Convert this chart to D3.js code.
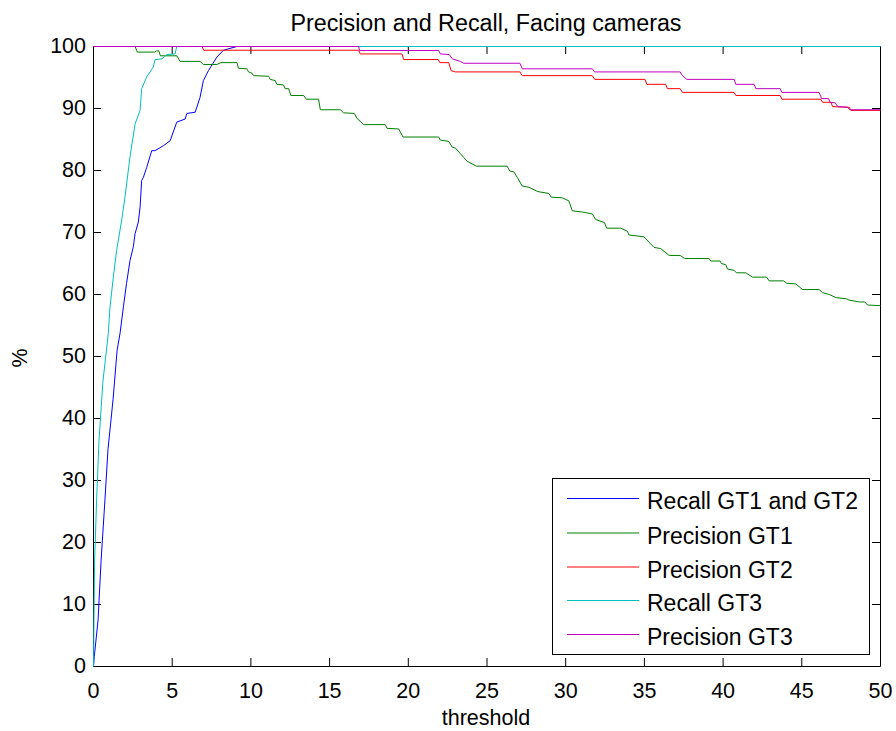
<!DOCTYPE html>
<html><head><meta charset="utf-8">
<script src="https://cdn.jsdelivr.net/npm/d3@7"></script>
<style>
html,body{margin:0;padding:0;background:#fff;}
svg{display:block;font-family:"Liberation Sans",Arial,sans-serif;}
</style></head>
<body>
<svg id="chart" width="896" height="731"></svg>
<script>
const titleText = "Precision and Recall, Facing cameras";
const xLabel = "threshold";
const yLabel = "%";
const xTicks = [0,5,10,15,20,25,30,35,40,45,50];
const yTicks = [0,10,20,30,40,50,60,70,80,90,100];
const seriesNames = ["Recall GT1 and GT2","Precision GT1","Precision GT2","Recall GT3","Precision GT3"];
const seriesColors = ["#0000ff","#008000","#ff0000","#00bfbf","#bf00bf"];

const recall12X = [0,0.05,0.29,0.48,0.73,0.92,1.24,1.5,1.69,1.9,2.1,2.32,2.53,2.64,2.85,2.96,3.06,3.17,3.38,3.7,3.91,4.44,4.87,5.29,5.82,5.93,6.46,6.77,6.98,7.3,7.84,8.26,9.1,50];
const recall12Y = [0,1.6,7.5,17,27,35,43,51,53.8,58,61.8,65.5,67.7,69.8,71.7,74.1,78.4,78.9,80.5,83.2,83.2,84.0,84.8,87.8,88.3,89.2,89.4,91.8,94.5,96.1,98.3,99.4,100,100];

const prec1X = [0,2.64,2.79,3.9,4.0,4.15,4.25,5.3,5.5,6.77,6.98,7.84,8.1,9.11,9.21,9.74,9.85,10.06,10.17,11.12,11.23,11.55,11.65,12.07,12.18,12.4,12.54,13.35,13.52,14.3,14.41,15.68,15.89,16.57,16.74,17.17,18.54,18.65,19.39,19.67,21.93,22.04,22.57,22.78,23.0,23.31,23.52,23.74,24.33,26.28,26.45,26.7,26.92,27.24,27.66,28.23,28.93,29.08,29.78,30.2,30.42,31.06,31.69,31.9,32.47,32.6,33.49,33.92,34.02,34.97,35.61,36.04,36.57,37.27,37.56,39.11,39.22,39.81,39.9,40.17,40.28,40.7,40.85,41.44,41.87,42.76,42.93,43.84,44.05,44.62,45.05,46.1,46.32,46.74,47.17,47.85,48.01,48.65,49.0,49.18,50];
const prec1Y = [100,100,99.1,99.1,99.3,99.3,98.5,98.5,97.6,97.6,97.1,97.1,97.4,97.4,96.5,96.4,95.9,95.7,95.3,95.2,94.7,94.5,93.9,93.8,93.2,93.2,92.1,92.1,91.5,91.5,89.8,89.8,89.3,89.2,88.4,87.4,87.4,86.8,86.7,85.4,85.4,84.9,84.7,83.8,83.6,82.7,82.1,81.5,80.7,80.7,79.9,79.8,78.9,77.5,77.3,76.6,76.3,75.7,75.6,75.1,73.5,73.3,73.0,72.1,71.6,70.7,70.7,70.2,69.6,69.3,67.6,67.4,66.3,66.3,65.8,65.8,65.4,65.4,65.0,64.8,64.1,63.9,63.5,63.5,62.8,62.8,62.2,62.2,61.8,61.7,60.8,60.8,60.3,60.0,59.5,59.3,59.1,58.8,58.8,58.3,58.2];

const prec2X = [0,6.9,7.0,16.85,16.95,19.6,19.7,21.9,22.0,22.57,22.72,23.0,27.09,27.24,31.69,31.84,35.04,35.15,36.35,36.46,37.27,37.42,40.7,40.81,43.63,43.73,46.2,46.32,46.85,46.96,48.01,48.12,50];
const prec2Y = [100,100,99.4,99.4,98.8,98.8,97.9,97.9,97.4,97.4,96.1,95.9,95.9,95.3,95.3,94.7,94.7,93.9,93.9,93.2,93.2,92.6,92.6,92.1,92.1,91.5,91.5,91.0,91.0,90.3,90.2,89.7,89.7];

const recall3X = [0,0.03,0.07,0.2,0.35,0.6,0.94,1.05,1.26,1.47,1.79,2.0,2.32,2.64,2.96,3.06,3.38,3.8,3.91,4.34,4.66,5.18,5.29,50];
const recall3Y = [0,8,17,27,36.5,46,53.7,58,62.8,67.1,72,75.7,82.2,87.5,89.7,93.2,95.1,96.7,97.9,98.0,98.7,98.8,100,100];

const prec3X = [0,16.85,16.9,21.93,22.04,22.6,22.8,23.3,23.52,27.09,27.24,31.69,31.84,37.27,37.42,37.69,40.7,40.81,41.97,42.08,43.63,43.73,46.1,46.26,46.7,46.8,47.13,47.28,47.9,48.05,50];
const prec3Y = [100,100,99.35,99.35,98.8,98.7,98.0,97.6,97.3,97.3,96.4,96.4,95.9,95.9,95.3,94.7,94.7,93.9,93.9,93.2,93.2,92.6,92.6,91.6,91.6,91.0,90.9,90.3,90.2,89.8,89.8];

const seriesX = [recall12X, prec1X, prec2X, recall3X, prec3X];
const seriesY = [recall12Y, prec1Y, prec2Y, recall3Y, prec3Y];

const svg = d3.select("#chart");
// pixel-aligned frame (d3 axis adds 0.5 offset)
const L0 = 93, R0 = 880, T0 = 46, B0 = 666;
const x = d3.scaleLinear().domain([0,50]).range([L0+0.5,R0+0.5]);
const y = d3.scaleLinear().domain([0,100]).range([B0+0.5,T0+0.5]);
const xa = d3.scaleLinear().domain([0,50]).range([L0,R0]);
const ya = d3.scaleLinear().domain([0,100]).range([B0,T0]);
const tickLen = 8;
const font = '"Liberation Sans",Arial,sans-serif';

const gB = svg.append("g").attr("transform",`translate(0,${B0})`)
  .call(d3.axisBottom(xa).tickValues(xTicks).tickFormat(d3.format("d")).tickSizeInner(-tickLen).tickSizeOuter(0).tickPadding(8));
const gL = svg.append("g").attr("transform",`translate(${L0},0)`)
  .call(d3.axisLeft(ya).tickValues(yTicks).tickFormat(d3.format("d")).tickSizeInner(-tickLen).tickSizeOuter(0).tickPadding(7));
const gT = svg.append("g").attr("transform",`translate(0,${T0})`)
  .call(d3.axisTop(xa).tickValues(xTicks).tickFormat("").tickSizeInner(-tickLen).tickSizeOuter(0));
const gR = svg.append("g").attr("transform",`translate(${R0},0)`)
  .call(d3.axisRight(ya).tickValues(yTicks).tickFormat("").tickSizeInner(-tickLen).tickSizeOuter(0));
[gB,gL,gT,gR].forEach(g=>{
  g.selectAll(".domain").attr("stroke","#000").attr("stroke-width",1);
  g.selectAll(".tick line").attr("stroke","#000");
  g.selectAll("text").attr("font-family",font).attr("font-size",21.5).attr("fill","#000");
});
gB.selectAll("text").attr("dy","0.71em").attr("y",17);

const line = d3.line().x(d=>x(d[0])).y(d=>y(d[1]));
seriesX.forEach((xs,i)=>{
  const pts = xs.map((v,j)=>[v, seriesY[i][j]]);
  svg.append("path").datum(pts).attr("d",line)
    .attr("fill","none").attr("stroke",seriesColors[i]).attr("stroke-width",1);
});

svg.append("text").attr("x",486).attr("y",31).attr("text-anchor","middle")
  .attr("font-family",font).attr("font-size",23.3).text(titleText);
svg.append("text").attr("x",486).attr("y",725).attr("text-anchor","middle")
  .attr("font-family",font).attr("font-size",21.5).text(xLabel);
svg.append("text").attr("transform","translate(27,358) rotate(-90)").attr("text-anchor","middle")
  .attr("font-family",font).attr("font-size",21.5).text(yLabel);

const lg = svg.append("g");
lg.append("rect").attr("x",552.5).attr("y",478.5).attr("width",317).attr("height",176)
  .attr("fill","#fff").attr("stroke","#000").attr("stroke-width",1);
const rowY = [498, 532.5, 566.5, 600, 634];
seriesNames.forEach((n,i)=>{
  lg.append("line").attr("x1",567).attr("x2",639).attr("y1",rowY[i]+0.5).attr("y2",rowY[i]+0.5)
    .attr("stroke",seriesColors[i]).attr("stroke-width",1);
  lg.append("text").attr("x",647).attr("y",rowY[i]+11).attr("font-family",font)
    .attr("font-size",23).text(n);
});
</script>
</body></html>
